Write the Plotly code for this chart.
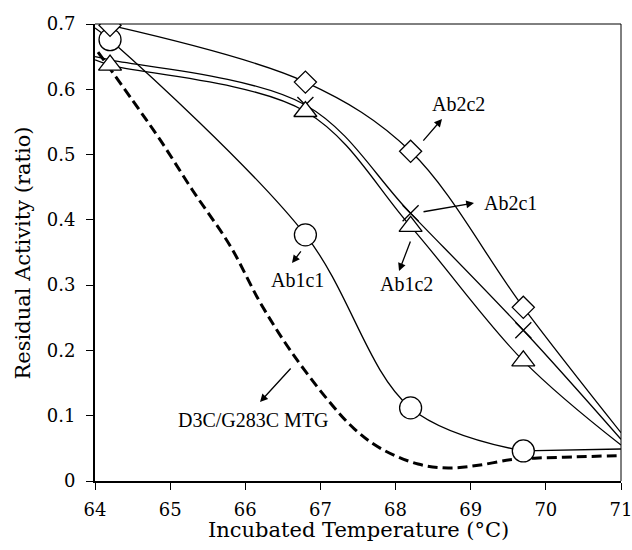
import plotly.graph_objects as go

# ---- data ----
# Ab2c2 (diamond)
ab2c2_x = [64.0, 64.2, 66.8, 68.2, 69.7, 71.0]
ab2c2_y = [0.702, 0.698, 0.611, 0.505, 0.266, 0.074]
ab2c2_mx = [64.2, 66.8, 68.2, 69.7]
ab2c2_my = [0.698, 0.611, 0.505, 0.266]

# Ab1c1 (circle) - smooth part and flat tail
ab1c1_x = [64.0, 64.2, 66.8, 68.2, 69.7]
ab1c1_y = [0.694, 0.676, 0.377, 0.112, 0.046]
ab1c1_tail_x = [69.7, 71.0]
ab1c1_tail_y = [0.046, 0.049]
ab1c1_mx = [64.2, 66.8, 68.2, 69.7]
ab1c1_my = [0.676, 0.377, 0.112, 0.046]

# Ab1c2 (triangle)
ab1c2_x = [64.0, 64.2, 66.8, 68.2, 69.7, 71.0]
ab1c2_y = [0.645, 0.637, 0.566, 0.390, 0.184, 0.055]
ab1c2_mx = [64.2, 66.8, 68.2, 69.7]
ab1c2_my = [0.637, 0.566, 0.390, 0.184]

# Ab2c1 (x)
ab2c1_x = [64.0, 64.2, 66.8, 68.2, 69.7, 71.0]
ab2c1_y = [0.650, 0.645, 0.576, 0.410, 0.231, 0.064]
ab2c1_mx = [66.8, 68.2, 69.7]
ab2c1_my = [0.576, 0.410, 0.231]

# D3C/G283C MTG (dashed)
mtg_x = [64.04, 64.5, 64.87, 65.3, 65.8, 66.2, 66.6, 67.1, 67.45, 67.8,
         68.3, 68.7, 69.1, 69.55, 69.85, 70.4, 71.0]
mtg_y = [0.657, 0.583, 0.522, 0.445, 0.360, 0.273, 0.200, 0.124, 0.080, 0.050,
         0.026, 0.020, 0.024, 0.033, 0.035, 0.037, 0.039]

x_ticks = [64, 65, 66, 67, 68, 69, 70, 71]
y_ticks = [0, 0.1, 0.2, 0.3, 0.4, 0.5, 0.6, 0.7]
y_tick_labels = ["0", "0.1", "0.2", "0.3", "0.4", "0.5", "0.6", "0.7"]

TICKFONT = dict(family="DejaVu Serif", size=18, color="black")
TITLEFONT = dict(family="DejaVu Serif", size=21, color="black")
ANNFONT = dict(family="Liberation Serif", size=20, color="black")

fig = go.Figure()

line_style = dict(color="black", width=1.3, shape="spline", smoothing=1.0)

for xs, ys in [(ab2c2_x, ab2c2_y), (ab1c1_x, ab1c1_y), (ab1c2_x, ab1c2_y), (ab2c1_x, ab2c1_y)]:
    fig.add_trace(go.Scatter(x=xs, y=ys, mode="lines", line=line_style,
                             showlegend=False, hoverinfo="skip"))
fig.add_trace(go.Scatter(x=ab1c1_tail_x, y=ab1c1_tail_y, mode="lines",
                         line=dict(color="black", width=1.3),
                         showlegend=False, hoverinfo="skip"))

fig.add_trace(go.Scatter(x=mtg_x, y=mtg_y, mode="lines",
                         line=dict(color="black", width=3, dash="10px,5px",
                                   shape="spline", smoothing=1.0),
                         showlegend=False, hoverinfo="skip"))

fig.add_trace(go.Scatter(x=ab2c1_mx, y=ab2c1_my, mode="markers",
                         marker=dict(symbol="x-thin-open", size=16, color="black",
                                     line=dict(color="black", width=1.3)),
                         showlegend=False))
fig.add_trace(go.Scatter(x=ab1c2_mx, y=ab1c2_my, mode="markers",
                         marker=dict(symbol="triangle-up", size=20, color="white",
                                     line=dict(color="black", width=1.3)),
                         showlegend=False))
fig.add_trace(go.Scatter(x=ab1c1_mx, y=ab1c1_my, mode="markers",
                         marker=dict(symbol="circle", size=22, color="white",
                                     line=dict(color="black", width=1.3)),
                         showlegend=False))
fig.add_trace(go.Scatter(x=ab2c2_mx, y=ab2c2_my, mode="markers",
                         marker=dict(symbol="diamond", size=17, color="white",
                                     line=dict(color="black", width=1.3)),
                         showlegend=False))

# labels and arrows
labels = [
    ("Ab2c2", 68.844, 0.578),
    ("Ab2c1", 69.536, 0.426),
    ("Ab1c2", 68.146, 0.302),
    ("Ab1c1", 66.695, 0.308),
    ("D3C/G283C MTG", 66.109, 0.093),
]
arrows = [
    # head x, head y, tail x, tail y
    (68.618, 0.5545, 68.352, 0.519),
    (69.044, 0.4258, 68.352, 0.412),
    (68.046, 0.3216, 68.205, 0.369),
    (66.622, 0.334, 66.755, 0.354),
    (66.196, 0.121, 66.622, 0.1746),
]
anns = []
for t, x, y in labels:
    anns.append(dict(text=t, x=x, y=y, xref="x", yref="y", showarrow=False,
                     font=ANNFONT, xanchor="center", yanchor="middle"))
for hx, hy, tx, ty in arrows:
    anns.append(dict(text="", x=hx, y=hy, ax=tx, ay=ty, xref="x", yref="y",
                     axref="x", ayref="y", showarrow=True, arrowhead=2,
                     arrowsize=1.2, arrowwidth=1.3, arrowcolor="black"))
# axis titles
anns.append(dict(text="Incubated Temperature (°C)", x=0.5, y=-0.107,
                 xref="paper", yref="paper", showarrow=False, font=TITLEFONT,
                 xanchor="center", yanchor="middle"))
anns.append(dict(text="Residual Activity (ratio)", x=-0.137, y=0.5,
                 xref="paper", yref="paper", showarrow=False, font=TITLEFONT,
                 textangle=-90, xanchor="center", yanchor="middle"))

fig.update_layout(
    width=632, height=550,
    margin=dict(l=95, r=11, t=24, b=69),
    paper_bgcolor="white", plot_bgcolor="white",
    annotations=anns,
    shapes=[
        dict(type="line", xref="paper", yref="paper", x0=0, x1=1, y0=1, y1=1,
             line=dict(color="black", width=1)),
        dict(type="line", xref="paper", yref="paper", x0=1, x1=1, y0=0, y1=1,
             line=dict(color="black", width=1)),
    ],
)

fig.update_xaxes(
    range=[64, 71], tickvals=x_ticks, ticks="outside", ticklen=7, tickwidth=1,
    tickcolor="black", showline=True, linecolor="black", linewidth=2,
    showgrid=False, zeroline=False, tickfont=TICKFONT, ticklabelstandoff=4,
    automargin=False, ticklabeloverflow="allow",
)
fig.update_yaxes(
    range=[0, 0.7], tickvals=y_ticks, ticktext=y_tick_labels, ticks="outside",
    ticklen=7, tickwidth=1, tickcolor="black", showline=True, linecolor="black",
    linewidth=2, showgrid=False, zeroline=False, tickfont=TICKFONT,
    ticklabelstandoff=7, automargin=False, ticklabeloverflow="allow",
)

fig.write_html("out.html", config={"displayModeBar": False},
               post_script="document.body.style.margin='0';document.body.style.overflow='hidden';")
